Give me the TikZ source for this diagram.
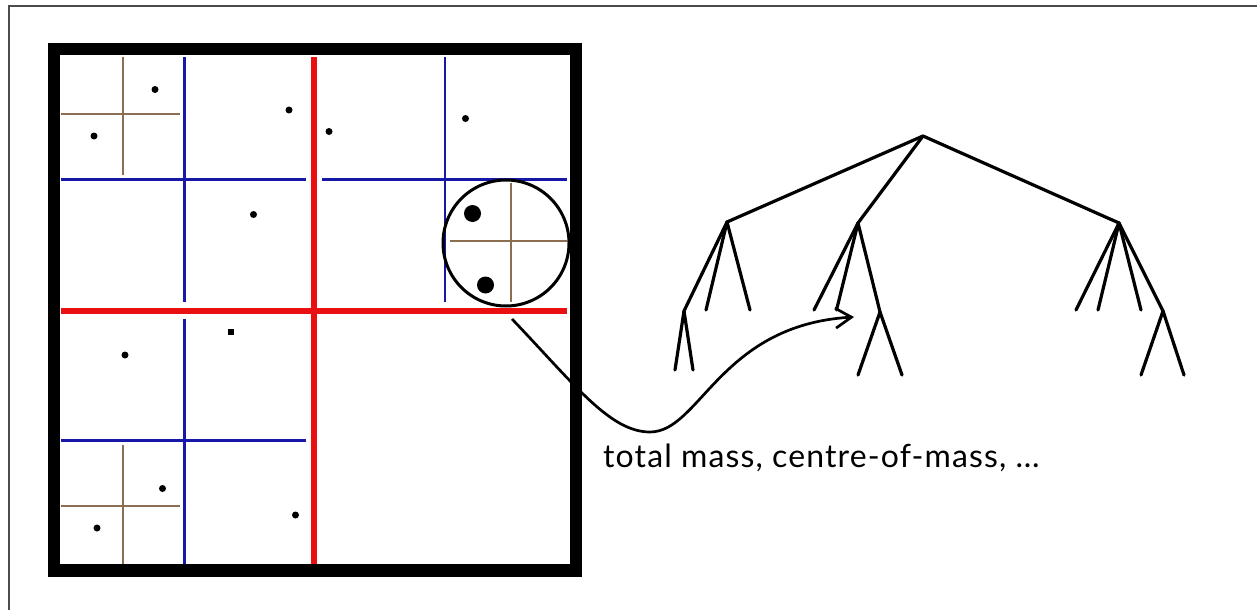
\documentclass[tikz,border=0pt]{standalone}
\usepackage{fontspec}
\usepackage{xcolor}
\usepackage{tikz}
\usetikzlibrary{arrows.meta}
\newfontfamily\labelfont[LetterSpace=3.5]{Lato}

\definecolor{cutred}{RGB}{232,16,16}
\definecolor{cutblue}{RGB}{24,24,168}
\definecolor{cutbrown}{RGB}{140,110,80}

\begin{document}
\begin{tikzpicture}[
    x=1pt, y=-1pt,
    frame/.style={draw=black!70, line width=1.6pt},
    cellbox/.style={draw=black, line width=12.5pt},
    lvlA/.style={draw=cutred, line width=5.5pt},
    lvlB/.style={draw=cutblue, line width=2.3pt},
    lvlC/.style={draw=cutbrown, line width=1.4pt},
    body/.style={fill=black},
    pick/.style={draw=black, line width=3pt},
    edge/.style={draw=black, line width=3.2pt, line cap=round},
    arr/.style={-{Straight Barb[length=16pt,width=20pt]}, line width=2.7pt},
    lbl/.style={font=\labelfont\fontsize{32}{38}\selectfont, inner sep=0pt},
]
\useasboundingbox (0,0) rectangle (1257,610);

% page edges
\draw[frame] (9,610) -- (9,6) -- (1257,6);

% quadtree cells
\draw[lvlA] (314,57) -- (314,564);
\draw[lvlA] (61,311) -- (567,311);

\draw[lvlB] (184.5,57) -- (184.5,302);
\draw[lvlB] (61,179.5) -- (306,179.5);
\draw[lvlB] (445,57) -- (445,302);
\draw[lvlB] (322,179.5) -- (567,179.5);
\draw[lvlB] (184.5,319) -- (184.5,564);
\draw[lvlB] (61,440.5) -- (306,440.5);

\draw[lvlC] (123,57) -- (123,175);
\draw[lvlC] (61,114) -- (180,114);
\draw[lvlC] (123,445) -- (123,564);
\draw[lvlC] (61,506) -- (180,506);
\draw[lvlC] (511,183) -- (511,302);
\draw[lvlC] (450,241) -- (567,241);

\draw[cellbox] (54,49) rectangle (576,570.5);

% bodies
\foreach \px/\py in {155/89.5, 94/136, 289/110, 329/131.5, 465.5/118.5,
                     253.5/214.5, 125/355, 162.5/488.5, 97/528, 295.5/515}
    \fill[body] (\px,\py) circle (3.5);
\fill[body] (227.5,328.5) rectangle (234,335);
\fill[body] (472.5,213.5) circle (8.5);
\fill[body] (485.5,285) circle (8.5);

\node[pick, circle, minimum size=126pt, inner sep=0pt] (cell) at (506,243) {};

% tree
\coordinate (root) at (923,136);
\coordinate (nA) at (727,222);
\coordinate (nB) at (858,223);
\coordinate (nC) at (1119,223);
\coordinate (nAa) at (684,311);
\coordinate (nBc) at (880,312);
\coordinate (nCd) at (1163,311);

\draw[edge] (root) -- (nA);
\draw[edge] (root) -- (nB);
\draw[edge] (root) -- (nC);
\draw[edge] (nA) -- (nAa);
\foreach \lx in {706,750}
    \draw[edge] (nA) -- (\lx,310);
\draw[edge] (nB) -- (nBc);
\foreach \lx in {814,836.5}
    \draw[edge] (nB) -- (\lx,310);
\draw[edge] (nC) -- (nCd);
\foreach \lx in {1076,1098,1141}
    \draw[edge] (nC) -- (\lx,310);
\foreach \lx in {675,693}
    \draw[edge] (nAa) -- (\lx,370);
\foreach \lx in {858,902}
    \draw[edge] (nBc) -- (\lx,375);
\foreach \lx in {1141,1184}
    \draw[edge] (nCd) -- (\lx,375);

% summary link
\coordinate (src) at (512,319);
\coordinate (dst) at (854,317);
\draw[arr] (src) .. controls (575,385) and (610,432) .. (650,432)
                 .. controls (700,432) and (720,325) .. (dst);

\node[lbl, anchor=base west] (info) at (603,467.5) {total mass, centre-of-mass, …};
\end{tikzpicture}
\end{document}
